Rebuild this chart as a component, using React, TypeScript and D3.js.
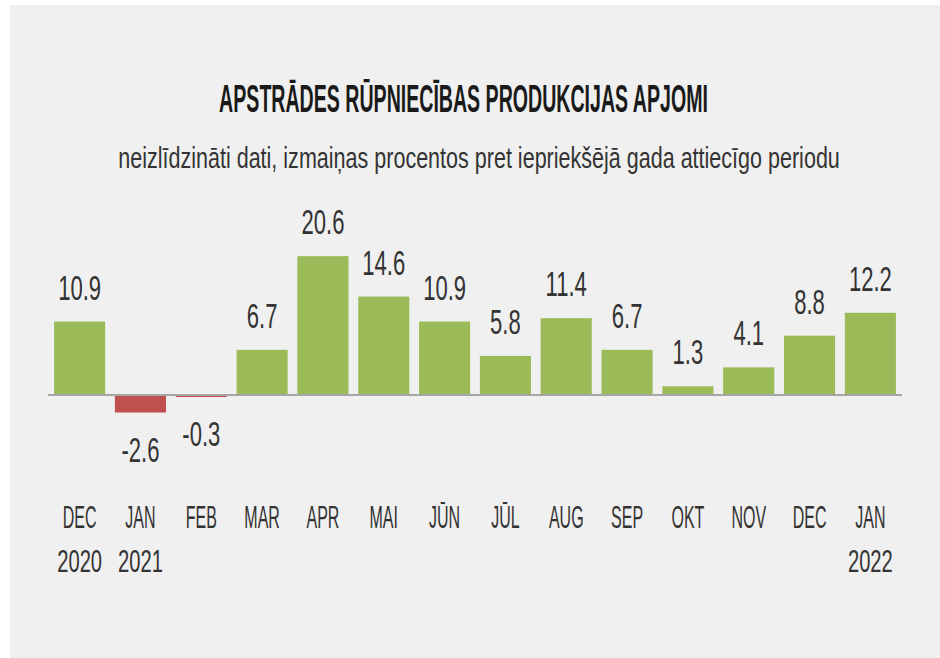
import React, { useLayoutEffect, useRef, useState } from "react";
import * as d3 from "d3";

const months = ["DEC", "JAN", "FEB", "MAR", "APR", "MAI", "JŪN", "JŪL", "AUG", "SEP", "OKT", "NOV", "DEC", "JAN"];
const years = ["2020", "2021", "", "", "", "", "", "", "", "", "", "", "", "2022"];
const values = [10.9, -2.6, -0.3, 6.7, 20.6, 14.6, 10.9, 5.8, 11.4, 6.7, 1.3, 4.1, 8.8, 12.2];
const labels = ["10.9", "-2.6", "-0.3", "6.7", "20.6", "14.6", "10.9", "5.8", "11.4", "6.7", "1.3", "4.1", "8.8", "12.2"];
const title = "APSTRĀDES RŪPNIECĪBAS PRODUKCIJAS APJOMI";
const subtitle = "neizlīdzināti dati, izmaiņas procentos pret iepriekšējā gada attiecīgo periodu";

const W = 940;
const H = 658;
const FONT = "'Liberation Sans', Arial, sans-serif";

function FitText(props: {
  x: number;
  y: number;
  width: number;
  fontSize: number;
  weight?: string;
  fill: string;
  children: string;
}) {
  const ref = useRef<SVGTextElement>(null);
  const [sx, setSx] = useState(1);
  useLayoutEffect(() => {
    if (ref.current) {
      const w = ref.current.getComputedTextLength();
      if (w > 0) setSx(props.width / w);
    }
  }, [props.width, props.children]);
  return (
    <text
      ref={ref}
      transform={`translate(${props.x},${props.y}) scale(${sx},1)`}
      textAnchor="middle"
      fontFamily={FONT}
      fontSize={props.fontSize}
      fontWeight={props.weight || "normal"}
      fill={props.fill}
    >
      {props.children}
    </text>
  );
}

export default function App() {
  const idx = values.map((_, i) => String(i));
  const x = d3.scaleBand<string>().domain(idx).range([48, 902]).paddingInner(0.16).paddingOuter(0.1);
  const y = d3.scaleLinear().domain([-5, 25]).range([395 + 5 * 6.74, 395 - 25 * 6.74]);
  const y0 = y(0);

  return (
    <div style={{ position: "absolute", left: 0, top: 0 }}>
      <svg width={W} height={H} style={{ display: "block" }}>
        <rect x={0} y={0} width={W} height={H} fill="#ffffff" />
        <rect x={10} y={5} width={930} height={653} fill="#f0f0f0" />
        <FitText x={463.5} y={112} width={489} fontSize={39} weight="bold" fill="#1a1a1a">
          {title}
        </FitText>
        <FitText x={479} y={168} width={722} fontSize={29} fill="#333333">
          {subtitle}
        </FitText>
        {values.map((v, i) => {
          const bx = x(String(i))!;
          const top = Math.min(y(v), y0);
          const h = Math.abs(y(v) - y0);
          return (
            <rect key={"b" + i} x={bx} y={top} width={x.bandwidth()} height={h} fill={v >= 0 ? "#9bbb59" : "#c0504d"} />
          );
        })}
        <line x1={48} x2={902} y1={y0} y2={y0} stroke="#a6a6a6" strokeWidth={2} />
        {values.map((v, i) => {
          const cx = x(String(i))! + x.bandwidth() / 2;
          const ly = v >= 0 ? y(v) - 22 : y(v) + 49;
          return (
            <text
              key={"v" + i}
              transform={`translate(${cx},${ly}) scale(0.63,1)`}
              textAnchor="middle"
              fontFamily={FONT}
              fontSize={35}
              fill="#333333"
            >
              {labels[i]}
            </text>
          );
        })}
        {months.map((m, i) => {
          const cx = x(String(i))! + x.bandwidth() / 2;
          return (
            <g key={"m" + i}>
              <text
                transform={`translate(${cx},528) scale(0.5,1)`}
                textAnchor="middle"
                fontFamily={FONT}
                fontSize={32}
                fill="#333333"
              >
                {m}
              </text>
              {years[i] && (
                <text
                  transform={`translate(${cx},572) scale(0.63,1)`}
                  textAnchor="middle"
                  fontFamily={FONT}
                  fontSize={32}
                  fill="#333333"
                >
                  {years[i]}
                </text>
              )}
            </g>
          );
        })}
      </svg>
    </div>
  );
}
